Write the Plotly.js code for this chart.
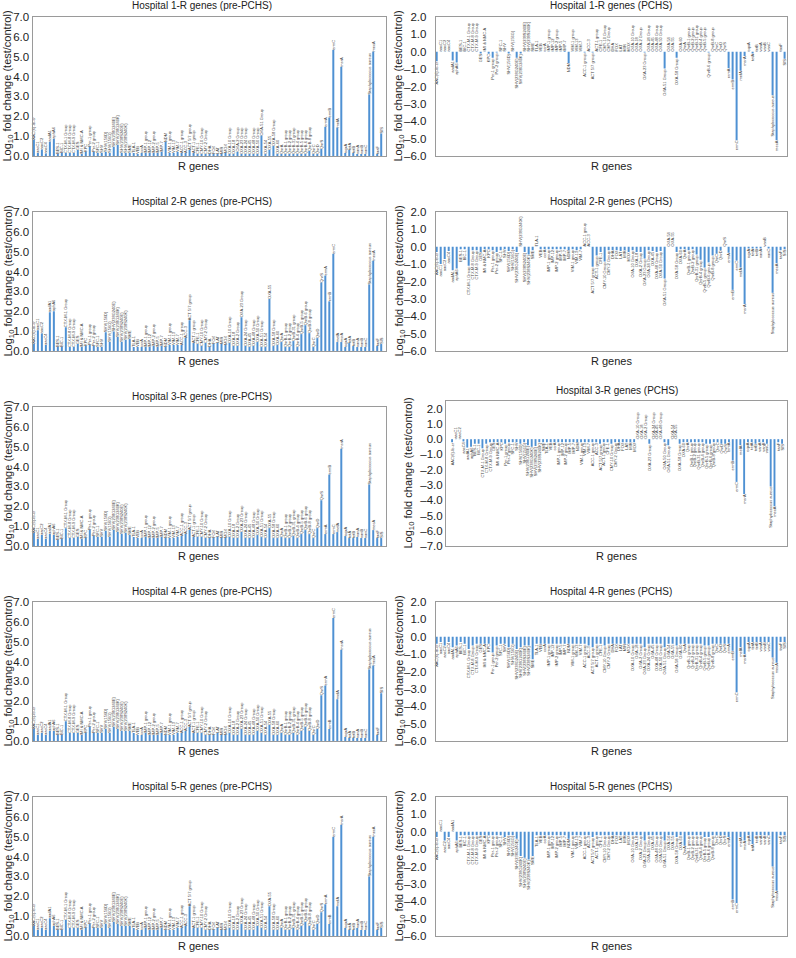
<!DOCTYPE html>
<html><head><meta charset="utf-8">
<script src="https://cdn.plot.ly/plotly-3.0.1.min.js"></script>
<style>html,body{margin:0;padding:0;background:#fff}#chart{width:796px;height:958px}</style>
</head><body><div id="chart"></div>
<script>
const genes = ["AAC(6)-Ib-cr","aacC1","aacC2","aacC4","aadA1","aphA6","BES-1","BIC-1","CTX-M-1 Group","CTX-M-8 Group",
"CTX-M-9 Group","GES","IMI & NMC-A","KPC","Per-1 group","Per-2 group","SFC-1","SHV","SHV(156D)","SHV(156G)",
"SHV(238G240E)","SHV(238G240K)","SHV(238S240E)","SHV(238S240K)","SME","TLA-1","VEB","ccrA","IMP-1 group","IMP-12",
"IMP-2 group","IMP-5","IMP-7","NDM","VIM-1 group","VIM-13","VIM-7","ACC-1 group","ACC-3","ACT 5/7 group",
"ACT-1 group","CFE-1","CMY-10 Group","CMY-2 Group","DHA","FOX","LAT","MIR","MOX","OXA-10 Group",
"OXA-18","OXA-2 Group","OXA-23 Group","OXA-24 Group","OXA-45","OXA-48 Group","OXA-50 Group","OXA-51 Group","OXA-54","OXA-55",
"OXA-58 Group","OXA-60","QnrA","QnrB-1 group","QnrB-2 group","QnrB-31 group","QnrB-4 group","QnrB-5 group","QnrB-6 group","QnrB-8 group",
"QnrC","QnrD","QnrS","ermA","ermB","ermC","mefA","msrA","oqxA","tetA",
"tetB","vanA","vanB","vanC","Staphylococcus aureus","mecA","taaF","SIS"];

const h1Pre = [0.82,0.15,0.33,0.12,0.72,0.87,0.10,0.15,0.15,0.15,
0.15,0.30,0.10,0.20,0.47,0.20,0.15,0.15,0.20,0.15,
0.45,0.55,0.15,0.15,0.15,0.15,0.10,0.15,0.15,0.15,
0.15,0.15,0.20,0.70,0.15,0.15,0.20,0.15,0.15,0.30,
0.15,0.10,0.10,0.10,0.10,0.10,0.10,0.10,0.15,0.10,
0.10,0.22,0.10,0.10,0.10,0.10,0.10,1.03,0.10,0.30,
0.50,0.10,0.10,0.10,0.10,0.10,0.10,0.10,0.10,0.25,
0.10,0.10,0.35,1.47,1.94,5.35,1.43,4.50,0.15,0.30,
0.15,0.10,0.10,0.10,3.10,5.26,0.10,1.13];

const h1Pchs = [-0.55,0.02,0.02,0.02,-0.50,-0.62,0.02,0.02,0.02,0.02,
0.02,-0.10,0.02,-0.12,-0.35,-0.05,0.02,0.02,-0.10,0.02,
-0.35,-0.10,0.02,0.02,0.02,0.02,0.02,0.02,0.02,0.02,
0.02,0.02,0.05,-0.65,0.02,0.02,0.02,-0.05,0.02,-0.05,
0.02,0.02,0.02,0.02,0.02,0.02,0.02,0.02,0.02,0.02,
0.02,0.02,-0.05,0.02,0.02,0.02,0.02,-0.96,0.02,0.02,
-0.35,0.02,0.02,0.02,0.02,0.02,0.02,0.02,-0.05,0.02,
0.02,0.02,0.02,-0.95,-1.60,-5.10,-1.10,-0.25,0.02,-0.10,
0.02,0.02,0.02,0.02,-2.50,-5.10,0.02,-0.40];

const h2Pre = [0.37,1.05,0.88,0.30,1.95,2.00,0.20,0.20,1.20,0.20,
0.20,0.35,0.20,0.25,0.30,0.25,0.20,0.20,0.95,0.45,
0.98,0.70,0.45,0.55,0.60,0.20,0.20,0.20,0.20,0.20,
0.25,0.20,0.25,0.20,0.30,0.30,0.30,0.30,0.65,1.55,
0.40,0.35,0.25,0.40,0.20,0.35,0.40,0.35,0.30,0.40,
0.25,0.25,1.70,0.25,0.20,0.25,0.45,0.20,0.20,2.62,
0.25,0.30,0.45,0.20,0.20,0.50,0.20,0.85,1.30,0.90,
0.20,0.65,3.45,3.80,2.50,4.90,0.45,0.45,0.20,0.40,
0.25,0.20,0.20,0.20,3.35,4.55,0.25,0.35];

const h2Pchs = [-0.30,-1.00,-0.70,-0.25,-1.35,-1.25,-0.15,-0.15,-1.10,-0.20,
-0.20,-0.30,-0.15,-0.15,-0.20,-0.30,-0.20,-0.15,-0.25,-0.15,
-0.30,0.02,-0.30,-0.45,-0.20,0.02,-0.15,-0.15,-0.15,-0.15,
-0.15,-0.15,-0.15,-0.20,-0.15,-0.20,-0.15,0.02,0.02,-1.15,
-0.50,-0.30,-0.85,-0.20,-0.20,-0.20,-0.25,-0.20,-0.30,-0.20,
-0.30,-0.30,-0.68,-0.20,-0.25,-0.30,-0.25,-1.83,0.02,0.02,
-0.30,-0.15,-0.15,-0.20,-0.15,-0.45,-0.75,-1.20,-0.90,-0.50,
-0.40,-0.20,0.02,-0.35,-2.48,-0.80,-1.20,-3.30,-0.10,-0.10,
-0.10,-0.10,0.02,-0.10,-2.65,-0.95,-0.20,-0.15];

const h3Pre = [0.65,0.35,0.55,0.35,0.60,0.55,0.30,0.35,0.90,0.40,
0.40,0.45,0.35,0.40,0.80,0.50,0.45,0.45,0.75,0.45,
0.80,0.70,0.60,0.65,0.55,0.45,0.40,0.40,0.45,0.40,
0.40,0.40,0.45,0.40,0.40,0.40,0.45,0.50,0.60,0.80,
0.45,0.45,0.45,0.40,0.40,0.40,0.45,0.40,0.40,0.45,
0.40,0.40,0.70,0.40,0.40,0.40,0.55,0.45,0.40,0.90,
0.40,0.40,0.45,0.40,0.40,0.50,0.40,0.60,0.80,0.60,
0.40,0.90,2.30,0.60,3.60,0.60,0.70,4.90,0.50,0.40,
0.40,0.45,0.40,0.40,3.10,0.80,0.40,0.40];

const h3Pchs = [-0.20,0.02,0.02,-0.15,-0.55,-0.50,-0.30,-0.30,-0.60,-0.30,
-0.20,-0.20,-0.20,-0.20,-0.30,-0.20,-0.20,-0.20,-0.30,-0.20,
-0.40,-0.50,-0.45,-0.20,-0.20,-0.20,-0.20,-0.20,-0.20,-0.20,
-0.20,-0.20,-0.20,-0.20,-0.20,-0.20,-0.20,-0.20,-0.20,-0.30,
-0.20,-0.20,-0.30,-0.20,-0.20,-0.20,-0.20,-0.20,-0.20,0.02,
0.02,0.02,-0.30,0.02,0.02,0.02,-0.20,-0.40,0.02,0.02,
-0.30,-0.20,-0.20,-0.20,-0.20,-0.20,-0.20,-0.30,-0.30,-0.20,
-0.20,-0.30,-0.30,-0.20,-1.40,-2.80,-0.40,-3.60,-0.20,-0.20,
-0.30,-0.20,-0.20,-0.30,-3.10,-4.40,-0.20,-0.30];

const h4Pre = [0.60,0.30,0.40,0.30,0.50,0.50,0.30,0.30,1.00,0.40,
0.40,0.40,0.30,0.40,0.70,0.40,0.40,0.40,0.60,0.40,
0.70,0.60,0.50,0.50,0.50,0.40,0.30,0.30,0.40,0.30,
0.30,0.30,0.40,0.30,0.30,0.30,0.40,0.40,0.50,0.70,
0.40,0.40,0.40,0.30,0.30,0.30,0.40,0.30,0.30,0.40,
0.30,0.30,0.60,0.30,0.30,0.30,0.50,0.40,0.30,0.80,
0.30,0.30,0.40,0.30,0.30,0.40,0.30,0.50,0.70,0.50,
0.30,0.60,2.30,2.80,0.60,6.20,2.10,4.60,0.20,0.15,
0.15,0.15,0.15,0.15,3.60,3.80,0.30,2.40];

const h4Pchs = [-0.40,-0.30,-0.50,-0.30,-0.60,-0.50,-0.30,-0.40,-0.70,-0.50,
-0.40,-0.40,-0.40,-0.40,-0.90,-0.50,-0.40,-0.40,-0.60,-0.40,
-0.70,-0.60,-0.50,-0.50,-1.30,-0.40,-0.40,-0.40,-0.40,-0.40,
-0.40,-0.40,-0.40,-0.40,-0.40,-0.40,-0.40,-0.40,-0.50,-0.60,
-0.40,-0.40,-0.50,-0.40,-0.40,-0.40,-0.40,-0.40,-0.40,-0.40,
-0.40,-0.40,-0.60,-0.40,-0.40,-0.40,-0.40,-0.60,-0.40,-0.40,
-0.50,-0.40,-0.40,-0.40,-0.40,-0.40,-0.40,-0.50,-0.50,-0.40,
-0.40,-0.40,-0.40,-0.40,-0.80,-3.20,-0.60,-1.00,-0.30,-0.30,
-0.30,-0.30,-0.30,-0.30,-1.20,-1.50,-0.30,-0.30];

const h5Pre = [0.50,0.30,0.40,0.30,0.90,0.50,0.30,0.30,0.80,0.40,
0.40,0.40,0.30,0.40,0.60,0.40,0.40,0.40,0.60,0.40,
0.70,0.60,0.50,0.50,0.50,0.40,0.30,0.30,0.40,0.30,
0.30,0.30,0.40,0.30,0.30,0.30,0.40,0.40,0.50,1.50,
0.40,0.40,0.40,0.30,0.30,0.30,0.40,0.30,0.30,0.40,
0.30,0.30,0.60,0.30,0.30,0.30,0.50,0.40,0.30,1.50,
0.30,0.30,0.40,0.30,0.30,0.40,0.30,0.50,0.70,0.50,
0.30,0.60,1.20,1.60,0.60,5.00,1.50,5.60,0.40,0.30,
0.30,0.40,0.30,0.30,3.00,5.00,0.30,0.40];

const h5Pchs = [-0.30,0.02,-0.50,-0.30,0.02,-0.50,-0.20,-0.20,-0.20,-0.20,
-0.20,-0.20,-0.20,-0.20,-0.20,-0.20,-0.20,-0.30,-0.20,-0.20,
-0.40,-1.40,-1.50,-1.60,-1.40,-0.20,-0.20,-0.20,-0.20,-0.20,
-0.20,-0.20,-0.20,-0.40,-0.20,-0.20,-0.20,-0.20,-0.20,-0.30,
-0.20,-0.20,-0.20,-0.20,-0.20,-0.20,-0.20,-0.20,-0.20,-0.20,
-0.20,-0.20,-0.50,-0.20,-0.20,-0.20,-0.20,-0.50,-0.20,-0.20,
-0.30,-0.20,-0.80,-0.20,-0.20,-0.20,-0.20,-0.30,-0.30,-0.20,
-0.20,-0.20,-0.20,-0.30,-3.90,-4.10,-0.30,-0.50,-0.20,-0.70,
-0.20,-0.20,-0.20,-0.20,-2.00,-3.40,-0.20,-0.20];

const panelTitles = [
 "Hospital 1-R genes (pre-PCHS)","Hospital 1-R genes (PCHS)",
 "Hospital 2-R genes (pre-PCHS)","Hospital 2-R genes (PCHS)",
 "Hospital 3-R genes (pre-PCHS)","Hospital 3-R genes (PCHS)",
 "Hospital 4-R genes (pre-PCHS)","Hospital 4-R genes (PCHS)",
 "Hospital 5-R genes (pre-PCHS)","Hospital 5-R genes (PCHS)"];
const series = [h1Pre,h1Pchs,h2Pre,h2Pchs,h3Pre,h3Pchs,h4Pre,h4Pchs,h5Pre,h5Pchs];

const W = 796, H = 958;
const FONT = "Liberation Sans, Arial, sans-serif";
const BAR = "#4f91d3";
const fx = px => px / W;
const fy = py => 1 - py / H;
const fmtTick = v => (v < 0 ? "\u2013" : "") + Math.abs(v).toFixed(1);

const data = [], annotations = [];
const layout = {
  width: W, height: H, margin: {l:0, r:0, t:0, b:0},
  paper_bgcolor: "#fff", plot_bgcolor: "#fff", showlegend: false,
  font: {family: FONT, color: "#222"}, annotations
};

for (let k = 0; k < 10; k++) {
  const col = k % 2, row = Math.floor(k / 2);
  let top = 17 + 195 * row, bottom = top + 139;
  let x0 = col === 0 ? 32.5 : 435.5, x1 = col === 0 ? 386 : 787;
  let yr = col === 0 ? [0, 7] : [-6, 2];
  let xr = col === 0 ? [-0.35, 88.2] : [-0.3, 87.6];
  let ytitleX = col === 0 ? 8 : 399;
  let sfxTick = col === 0 ? "" : "\u2002";
  if (k === 5) { x0 = 446; top = 401; bottom = 546; yr = [-7, 2.5]; xr = [-1.6, 88.3]; ytitleX = 408; sfxTick = ""; }
  const tv = [];
  for (let v = Math.ceil(yr[0]); v <= Math.floor(yr[1]); v++) tv.push(v);
  const n = k + 1, sfx = n === 1 ? "" : String(n);
  data.push({
    type: "bar", x: genes.map((g, i) => i), y: series[k],
    xaxis: "x" + sfx, yaxis: "y" + sfx,
    marker: {color: BAR}, width: 0.5,
    text: genes, textposition: "outside", textangle: -90,
    textfont: {size: 4, color: "#444", family: FONT},
    constraintext: "none", cliponaxis: false, hoverinfo: "skip"
  });
  layout["xaxis" + sfx] = {
    domain: [fx(x0), fx(x1)], range: xr, anchor: "y" + sfx,
    showticklabels: false, ticks: "", showgrid: false, zeroline: false,
    showline: true, mirror: true, linecolor: "#9a9a9a", linewidth: 1, fixedrange: true
  };
  layout["yaxis" + sfx] = {
    domain: [fy(bottom), fy(top)], range: yr, anchor: "x" + sfx,
    tickmode: "array", tickvals: tv, ticktext: tv.map(v => fmtTick(v) + sfxTick),
    showgrid: false, zeroline: false,
    showline: true, mirror: true, linecolor: "#9a9a9a", linewidth: 1,
    ticks: "", 
    tickfont: {size: 11.5, color: "#222", family: FONT}, fixedrange: true
  };
  const cx = (x0 + x1) / 2;
  annotations.push({xref: "paper", yref: "paper", x: fx(col === 0 ? 202 : cx), y: fy(top - 11),
    text: panelTitles[k], showarrow: false, xanchor: "center", yanchor: "middle",
    font: {size: 10, color: "#222", family: FONT}});
  annotations.push({xref: "paper", yref: "paper", x: fx(col === 0 ? 198 : cx), y: fy(bottom + 10),
    text: "R genes", showarrow: false, xanchor: "center", yanchor: "middle",
    font: {size: 11, color: "#222", family: FONT}});
  annotations.push({xref: "paper", yref: "paper", x: fx(ytitleX), y: fy((top + bottom) / 2),
    text: "Log<sub>10</sub> fold change (test/control)", showarrow: false, textangle: -90,
    xanchor: "center", yanchor: "middle",
    font: {size: 11, color: "#222", family: FONT}});
}

Plotly.newPlot("chart", data, layout, {displayModeBar: false, staticPlot: true});
</script></body></html>
